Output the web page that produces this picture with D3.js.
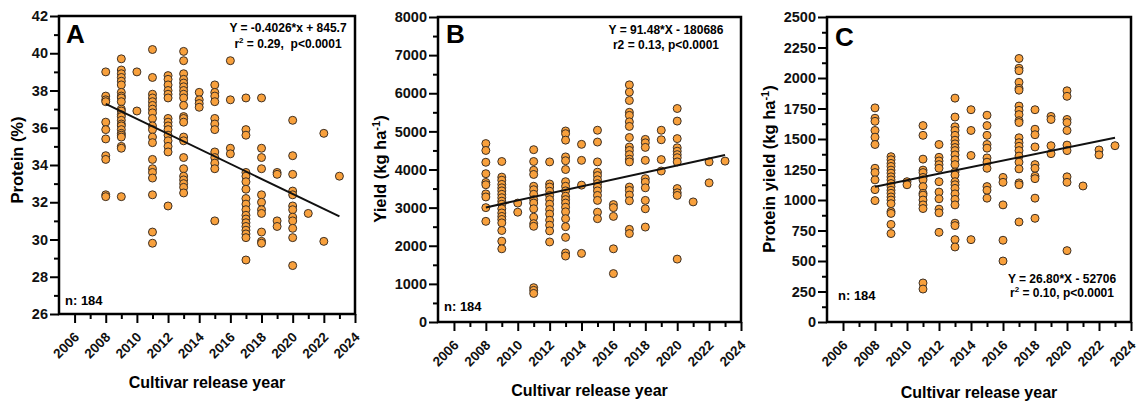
<!DOCTYPE html>
<html>
<head>
<meta charset="utf-8">
<script src="https://cdn.jsdelivr.net/npm/d3@7"></script>
<style>
  body { margin: 0; background: #fff; }
  svg { display: block; font-family: "Liberation Sans", Arial, sans-serif; font-weight: bold; }
</style>
</head>
<body>
<svg id="svg"></svg>
<script>

const width = 1138;
const height = 403;

// release years, one entry per column of dots
const years = [2008, 2009, 2010, 2011, 2012, 2013, 2014, 2015, 2016, 2017, 2018, 2019, 2020, 2021, 2022, 2023];

// Protein (%) per year
const proteinByYear = [
  [39.0, 37.7, 37.5, 37.4, 36.3, 35.9, 35.4, 34.5, 34.3, 32.4, 32.3],
  [39.7, 39.1, 38.9, 38.7, 38.5, 38.3, 37.9, 37.7, 37.6, 37.4, 37.0, 36.9, 36.7, 36.6, 36.4, 36.2, 36.1, 35.9, 35.7, 35.6, 35.5, 35.0, 34.9, 32.3],
  [39.0, 36.9],
  [40.2, 38.7, 37.8, 37.6, 37.4, 37.2, 37.0, 36.8, 36.5, 36.1, 35.9, 35.5, 35.2, 34.3, 33.8, 33.6, 33.3, 32.4, 30.4, 29.8],
  [38.8, 38.6, 38.3, 38.0, 37.8, 37.6, 36.5, 36.3, 36.1, 35.9, 35.6, 35.3, 35.0, 34.7, 31.8],
  [40.1, 39.6, 38.9, 38.6, 38.4, 38.2, 38.0, 37.8, 37.6, 37.2, 36.6, 36.5, 36.3, 35.5, 35.3, 34.4, 33.8, 33.4, 33.2, 33.0, 32.8, 32.5],
  [37.9, 37.5, 37.3, 37.1],
  [38.3, 37.9, 37.7, 37.4, 36.5, 36.2, 35.9, 34.7, 34.4, 34.1, 33.8, 31.0],
  [39.6, 37.5, 34.9, 34.6],
  [37.6, 35.9, 35.6, 33.6, 33.4, 33.1, 32.7, 32.2, 31.9, 31.6, 31.3, 31.1, 30.9, 30.7, 30.5, 30.3, 30.1, 28.9],
  [37.6, 34.9, 34.4, 33.8, 32.4, 32.0, 31.6, 31.4, 30.4, 29.9, 29.8],
  [33.6, 33.5, 31.0, 30.7],
  [36.4, 34.5, 33.5, 32.6, 32.4, 31.8, 31.6, 31.2, 31.0, 30.6, 30.1, 28.6],
  [31.4],
  [35.7, 29.9],
  [33.4]
];

// Yield (kg/ha) per year
const yieldByYear = [
  [4680, 4500, 4190, 3890, 3660, 3600, 3360, 3280, 3000, 2640],
  [4210, 3800, 3720, 3610, 3520, 3440, 3350, 3260, 3170, 3090, 2970, 2860, 2770, 2690, 2600, 2400, 2120, 1920],
  [3120, 2880],
  [4520, 4210, 3980, 3870, 3560, 3470, 3350, 3210, 3120, 2970, 2750, 2580, 2510, 900, 830, 750],
  [4200, 3620, 3540, 3430, 3320, 3210, 3090, 2950, 2830, 2670, 2540, 2390, 2100],
  [5010, 4940, 4770, 4330, 4230, 4000, 3680, 3560, 3440, 3300, 3210, 3120, 3010, 2890, 2710, 2500, 2220, 1810, 1730],
  [4660, 4240, 3590, 1800],
  [5030, 4720, 4200, 3930, 3840, 3730, 3630, 3540, 3440, 3320, 3190, 2880, 2710],
  [3080, 3000, 2770, 1920, 1270],
  [6220, 6030, 5810, 5500, 5420, 5250, 5130, 4840, 4590, 4500, 4390, 4270, 4200, 3540, 3450, 3330, 3180, 2430, 2320],
  [4790, 4700, 4580, 4240, 3760, 3670, 3520, 3190, 2970, 2490],
  [5030, 4780, 4260, 3960],
  [5600, 5270, 4810, 4570, 4480, 4390, 4310, 4200, 3500, 3390, 3320, 1650],
  [3150],
  [4200, 3650],
  [4220]
];

// Protein yield (kg/ha) per year
const proteinYieldByYear = [
  [1755, 1670, 1645, 1570, 1515, 1455, 1260, 1225, 1165, 1085, 995],
  [1355, 1330, 1300, 1275, 1245, 1220, 1190, 1165, 1135, 1110, 1080, 1055, 1025, 1000, 970, 905, 890, 800, 725],
  [1150, 1125],
  [1610, 1530, 1335, 1245, 1225, 1185, 1165, 1110, 1055, 1040, 1000, 960, 930, 320, 270],
  [1455, 1350, 1320, 1290, 1260, 1150, 1065, 1010, 925, 895, 735],
  [1835, 1680, 1600, 1570, 1530, 1490, 1460, 1430, 1405, 1370, 1330, 1290, 1230, 1205, 1150, 1125, 1095, 1050, 1005, 960, 810, 790, 675, 615],
  [1740, 1570, 1365, 675],
  [1695, 1610, 1530, 1455, 1425, 1345, 1310, 1260, 1110, 1080, 1015],
  [1185, 1145, 960, 670, 500],
  [2160, 2080, 2060, 1965, 1915, 1900, 1770, 1735, 1700, 1650, 1635, 1510, 1470, 1440, 1405, 1360, 1310, 1255, 1140, 1125, 820],
  [1740, 1580, 1535, 1435, 1290, 1260, 1195, 1175, 1015, 850],
  [1685, 1660, 1445, 1380],
  [1895, 1850, 1660, 1635, 1570, 1450, 1405, 1190, 1145, 585],
  [1115],
  [1410, 1370],
  [1445]
];

// axis ticks
const xTicks = [2006, 2008, 2010, 2012, 2014, 2016, 2018, 2020, 2022, 2024];
const proteinTicks = [26, 28, 30, 32, 34, 36, 38, 40, 42];
const yieldTicks = [0, 1000, 2000, 3000, 4000, 5000, 6000, 7000, 8000];
const proteinYieldTicks = [0, 250, 500, 750, 1000, 1250, 1500, 1750, 2000, 2250, 2500];

// fitted lines [slope, intercept] as printed on the panels
const proteinFit = [-0.4026, 845.7];
const yieldFit = [91.48, -180686];
const proteinYieldFit = [26.80, -52706];

const dotFill = "#f8a03c";
const dotStroke = "#3d3025";

const svg = d3.select("#svg")
  .attr("width", width)
  .attr("height", height)
  .attr("viewBox", `0 0 ${width} ${height}`);

const panels = [
  {
    letter: "A", values: proteinByYear, fit: proteinFit,
    yDomain: [26, 42], yTicks: proteinTicks, yMinor: d3.range(27, 42, 2),
    left: 59, right: 355, top: 16, bottom: 314,
    yTitle: ["Protein (%)", null], yTitleX: 23, yTitleY: 160,
    letterPos: [66, 43],
    eq: ["Y = -0.4026*x + 845.7", ["r", "2", " = 0.29,  p<0.0001"]], eqX: 288, eqY: [32, 48],
    nPos: [65, 305], xTitleY: 388
  },
  {
    letter: "B", values: yieldByYear, fit: yieldFit,
    yDomain: [0, 8000], yTicks: yieldTicks, yMinor: d3.range(500, 8000, 1000),
    left: 438, right: 741, top: 17, bottom: 322,
    yTitle: ["Yield (kg ha", "-1", ")"], yTitleX: 386, yTitleY: 169,
    letterPos: [446, 43],
    eq: ["Y = 91.48*X - 180686", ["r2 = 0.13, p<0.0001", null, ""]], eqX: 666, eqY: [34, 49],
    nPos: [444, 311], xTitleY: 396
  },
  {
    letter: "C", values: proteinYieldByYear, fit: proteinYieldFit,
    yDomain: [0, 2500], yTicks: proteinYieldTicks, yMinor: d3.range(125, 2500, 250),
    left: 827, right: 1131, top: 17, bottom: 322,
    yTitle: ["Protein yield (kg ha", "-1", ")"], yTitleX: 775, yTitleY: 169,
    letterPos: [835, 46],
    eq: ["Y = 26.80*X - 52706", ["r", "2", " = 0.10, p<0.0001"]], eqX: 1062, eqY: [283, 297],
    nPos: [838, 300], xTitleY: 398
  }
];

panels.forEach(drawPanel);

function drawPanel(p) {
  const x = d3.scaleLinear().domain([2005, 2024]).range([p.left, p.right]);
  const y = d3.scaleLinear().domain(p.yDomain).range([p.bottom, p.top]);
  const g = svg.append("g");

  const points = years.flatMap((yr, i) => p.values[i].map(v => ({ year: yr, value: v })));

  // minor ticks
  g.append("g")
    .attr("transform", `translate(0,${p.bottom})`)
    .call(d3.axisBottom(x).tickValues(d3.range(2007, 2024, 2)).tickSize(5).tickFormat(""))
    .call(a => a.select(".domain").remove());
  g.append("g")
    .attr("transform", `translate(${p.left},0)`)
    .call(d3.axisLeft(y).tickValues(p.yMinor).tickSize(5).tickFormat(""))
    .call(a => a.select(".domain").remove());

  // major ticks + labels
  const xa = g.append("g")
    .attr("transform", `translate(0,${p.bottom})`)
    .call(d3.axisBottom(x).tickValues(xTicks).tickSize(9).tickFormat(d3.format("d")))
    .call(a => a.select(".domain").remove());
  xa.selectAll("text")
    .attr("x", null).attr("y", null).attr("dy", null)
    .attr("text-anchor", "end")
    .attr("transform", "translate(5,24) rotate(-45)")
    .style("font-size", "13.5px");

  g.append("g")
    .attr("transform", `translate(${p.left},0)`)
    .call(d3.axisLeft(y).tickValues(p.yTicks).tickSize(9).tickPadding(2).tickFormat(d3.format("d")))
    .call(a => a.select(".domain").remove())
    .selectAll("text").style("font-size", "14.5px");

  g.selectAll(".tick line").attr("stroke", "#000").attr("stroke-width", 2);
  g.selectAll(".tick text").attr("fill", "#111").style("font-family", "Liberation Sans, Arial, sans-serif").style("font-weight", "bold");

  // dots
  g.append("g").selectAll("circle")
    .data(points)
    .enter().append("circle")
    .attr("cx", d => x(d.year))
    .attr("cy", d => y(d.value))
    .attr("r", 4)
    .attr("fill", dotFill)
    .attr("stroke", dotStroke)
    .attr("stroke-width", 1);

  // fitted line over the data range
  const ext = d3.extent(years);
  g.append("line")
    .attr("x1", x(ext[0])).attr("y1", y(p.fit[0] * ext[0] + p.fit[1]))
    .attr("x2", x(ext[1])).attr("y2", y(p.fit[0] * ext[1] + p.fit[1]))
    .attr("stroke", "#111")
    .attr("stroke-width", 2);

  // frame
  g.append("rect")
    .attr("x", p.left).attr("y", p.top)
    .attr("width", p.right - p.left).attr("height", p.bottom - p.top)
    .attr("fill", "none").attr("stroke", "#000").attr("stroke-width", 2.5);

  // panel letter
  g.append("text")
    .attr("x", p.letterPos[0]).attr("y", p.letterPos[1])
    .style("font-size", "26px")
    .text(p.letter);

  // equation
  g.append("text")
    .attr("x", p.eqX).attr("y", p.eqY[0])
    .attr("text-anchor", "middle")
    .style("font-size", "12px")
    .text(p.eq[0]);
  const l2 = g.append("text")
    .attr("x", p.eqX).attr("y", p.eqY[1])
    .attr("text-anchor", "middle")
    .style("font-size", "12px")
    .style("white-space", "pre");
  l2.append("tspan").text(p.eq[1][0]);
  if (p.eq[1][1]) l2.append("tspan").attr("dy", -5).style("font-size", "8px").text(p.eq[1][1]);
  if (p.eq[1][2]) l2.append("tspan").attr("dy", p.eq[1][1] ? 5 : 0).text(p.eq[1][2]);

  // n
  g.append("text")
    .attr("x", p.nPos[0]).attr("y", p.nPos[1])
    .style("font-size", "13px")
    .text("n: 184");

  // axis titles
  g.append("text")
    .attr("x", (p.left + p.right) / 2).attr("y", p.xTitleY)
    .attr("text-anchor", "middle")
    .style("font-size", "16px")
    .text("Cultivar release year");

  const yt = g.append("text")
    .attr("transform", `translate(${p.yTitleX},${p.yTitleY}) rotate(-90)`)
    .attr("text-anchor", "middle")
    .style("font-size", "16.5px");
  yt.append("tspan").text(p.yTitle[0]);
  if (p.yTitle[1]) {
    yt.append("tspan").attr("dy", -6).style("font-size", "11px").text(p.yTitle[1]);
    yt.append("tspan").attr("dy", 6).text(p.yTitle[2]);
  }
}
</script>
</body>
</html>
